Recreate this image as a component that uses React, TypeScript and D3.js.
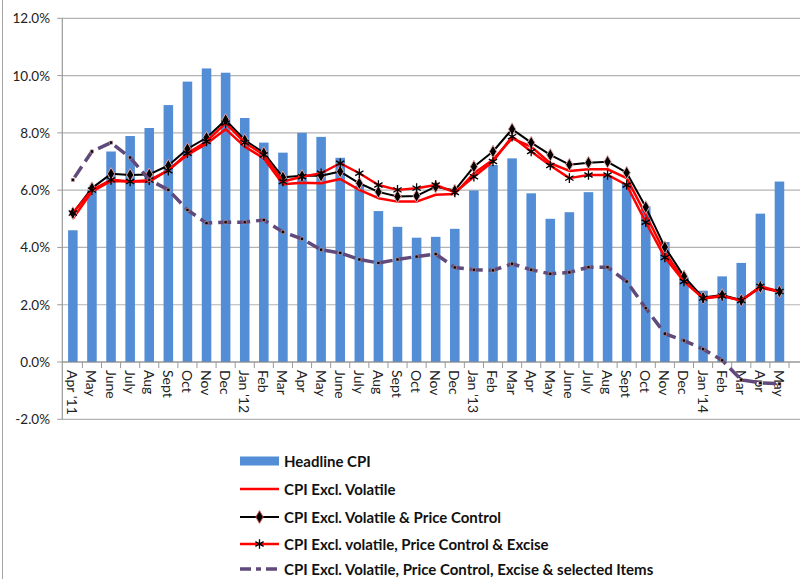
import * as d3 from "d3";

const months = [
  "Apr '11", "May '11", "Jun '11", "Jul '11", "Aug '11", "Sep '11", "Oct '11", "Nov '11", "Dec '11",
  "Jan '12", "Feb '12", "Mar '12", "Apr '12", "May '12", "Jun '12", "Jul '12", "Aug '12", "Sep '12",
  "Oct '12", "Nov '12", "Dec '12", "Jan '13", "Feb '13", "Mar '13", "Apr '13", "May '13", "Jun '13",
  "Jul '13", "Aug '13", "Sep '13", "Oct '13", "Nov '13", "Dec '13", "Jan '14", "Feb '14", "Mar '14",
  "Apr '14", "May '14",
];

const tickLabels = [
  "Apr '11", "May", "June", "July", "Aug", "Sept", "Oct", "Nov", "Dec",
  "Jan '12", "Feb", "Mar", "Apr", "May", "June", "July", "Aug", "Sept", "Oct", "Nov", "Dec",
  "Jan '13", "Feb", "Mar", "Apr", "May", "June", "July", "Aug", "Sept", "Oct", "Nov", "Dec",
  "Jan '14", "Feb", "Mar", "Apr", "May",
];

const headline = [
  4.6, 6.0, 7.35, 7.89, 8.17, 8.97, 9.79, 10.25, 10.1,
  8.52, 7.66, 7.31, 8.0, 7.86, 7.13, 6.15, 5.27, 4.72, 4.34, 4.37, 4.65,
  5.99, 6.88, 7.11, 5.89, 5.0, 5.23, 5.93, 6.47, 6.25, 5.43, 4.19, 2.96,
  2.49, 2.99, 3.46, 5.18, 6.3,
];

const exVolatile = [
  5.0, 5.95, 6.32, 6.3, 6.3, 6.71, 7.23, 7.62, 8.13,
  7.52, 7.11, 6.21, 6.26, 6.24, 6.39, 6.01, 5.72, 5.6, 5.6, 5.84, 5.87,
  6.59, 7.06, 7.81, 7.52, 6.94, 6.67, 6.73, 6.73, 6.42, 5.14, 3.82, 2.87,
  2.22, 2.3, 2.15, 2.6, 2.45,
];

const exVolPrice = [
  5.2, 6.07, 6.57, 6.53, 6.55, 6.86, 7.44, 7.83, 8.45,
  7.75, 7.3, 6.45, 6.5, 6.5, 6.65, 6.24, 5.94, 5.78, 5.8, 6.12, 5.99,
  6.82, 7.35, 8.13, 7.66, 7.23, 6.89, 6.96, 6.99, 6.61, 5.41, 4.01, 2.99,
  2.25, 2.34, 2.16, 2.62, 2.46,
];

const exVolPriceExcise = [
  5.2, 6.0, 6.36, 6.3, 6.35, 6.68, 7.29, 7.7, 8.34,
  7.66, 7.23, 6.3, 6.47, 6.59, 6.94, 6.59, 6.18, 6.01, 6.07, 6.18, 5.92,
  6.47, 7.0, 7.87, 7.35, 6.86, 6.42, 6.53, 6.53, 6.18, 4.88, 3.65, 2.81,
  2.23, 2.31, 2.15, 2.64, 2.46,
];

const exSelected = [
  6.36, 7.35, 7.66, 7.14, 6.36, 6.01, 5.31, 4.85, 4.88,
  4.88, 4.96, 4.54, 4.3, 3.92, 3.81, 3.58, 3.46, 3.58, 3.68, 3.77, 3.3,
  3.22, 3.2, 3.43, 3.22, 3.08, 3.13, 3.31, 3.31, 2.81, 1.88, 0.99, 0.75,
  0.45, 0.06, -0.62, -0.73, -0.76,
];

const yTicks = [-2, 0, 2, 4, 6, 8, 10, 12];

const legendLabels = [
  "Headline CPI",
  "CPI Excl. Volatile",
  "CPI Excl. Volatile & Price Control",
  "CPI Excl. volatile, Price Control & Excise",
  "CPI Excl. Volatile, Price Control, Excise & selected Items",
];

const FONT = "Lato, 'Open Sans', sans-serif";
const BLUE = "#538dd5";
const RED = "#ff0000";
const PURPLE = "#604a7b";

export default function App() {
  const width = 800;
  const height = 579;
  const left = 63.3;
  const right = 789;

  const x = d3.scaleBand<string>().domain(months).range([left, right]).paddingInner(0.5).paddingOuter(0.25);
  const xb = d3.scaleBand<string>().domain(months).range([left, right]).padding(0);
  const y = d3.scaleLinear().domain([-2, 12]).range([419.3, 18.3]);
  const cx = (m: string) => (x(m) as number) + x.bandwidth() / 2;

  const line = d3
    .line<number>()
    .x((_, i) => cx(months[i]))
    .y((d) => y(d));

  const diamond = d3.symbol().type(d3.symbolDiamond).size(46)()!;
  const aster = d3.symbol().type(d3.symbolAsterisk).size(64)()!;
  const square = d3.symbol().type(d3.symbolSquare).size(10)()!;

  const legendX = 240;
  const legendY = [461, 489, 517, 544, 569];

  return (
    <svg
      width={width}
      height={height}
      style={{ position: "absolute", left: 0, top: 0, background: "#fff" }}
    >
      <rect x={2.5} y={-5} width={820} height={620} fill="#fff" stroke="#a6a6a6" strokeWidth={1} />

      {/* gridlines */}
      {yTicks.map((t) => (
        <line key={t} x1={left - 1} x2={width} y1={y(t)} y2={y(t)} stroke="#b3b3b3" strokeWidth={1.2} />
      ))}
      {yTicks.map((t) => (
        <g key={"yt" + t}>
          <line x1={left - 6} x2={left - 1} y1={y(t)} y2={y(t)} stroke="#9a9a9a" />
          <text
            x={50}
            y={y(t)}
            textAnchor="end"
            dominantBaseline="central"
            fontFamily={FONT}
            fontSize={13.5}
            fill="#222"
          >
            {t.toFixed(1) + "%"}
          </text>
        </g>
      ))}

      {/* bars */}
      {headline.map((v, i) => (
        <rect
          key={months[i]}
          x={x(months[i])}
          width={x.bandwidth()}
          y={y(v)}
          height={y(0) - y(v)}
          fill={BLUE}
        />
      ))}

      {/* axes */}
      <line x1={left - 1} x2={left - 1} y1={y(12)} y2={y(-2)} stroke="#9a9a9a" strokeWidth={1.2} />
      <line x1={left - 1} x2={width} y1={y(0)} y2={y(0)} stroke="#8c8c8c" strokeWidth={1.2} />
      {months.map((m) => (
        <line
          key={"xt" + m}
          x1={(xb(m) as number) + xb.bandwidth()}
          x2={(xb(m) as number) + xb.bandwidth()}
          y1={y(0)}
          y2={y(0) + 6}
          stroke="#9a9a9a"
        />
      ))}
      {months.map((m, i) => (
        <text
          key={"xl" + m}
          transform={`translate(${cx(m)},${y(0) + 8}) rotate(90)`}
          dominantBaseline="central"
          fontFamily={FONT}
          fontSize={14}
          fill="#222"
        >
          {tickLabels[i]}
        </text>
      ))}

      {/* lines */}
      <path d={line(exVolatile)!} fill="none" stroke={RED} strokeWidth={2.5} strokeLinejoin="round" />
      <path d={line(exVolPrice)!} fill="none" stroke="#000" strokeWidth={2} strokeLinejoin="round" />
      {exVolPrice.map((v, i) => (
        <path
          key={"d" + i}
          d={diamond}
          transform={`translate(${cx(months[i])},${y(v)})`}
          fill="#000"
          stroke="#e3a3a3"
          strokeWidth={1}
        />
      ))}
      <path d={line(exVolPriceExcise)!} fill="none" stroke={RED} strokeWidth={2.5} strokeLinejoin="round" />
      {exVolPriceExcise.map((v, i) => (
        <path
          key={"a" + i}
          d={aster}
          transform={`translate(${cx(months[i])},${y(v)})`}
          fill="none"
          stroke="#000"
          strokeWidth={1.3}
        />
      ))}
      <path
        d={line(exSelected)!}
        fill="none"
        stroke={PURPLE}
        strokeWidth={3.5}
        strokeDasharray="13,6"
        strokeDashoffset={-3}
      />
      {exSelected.map((v, i) => (
        <path
          key={"s" + i}
          d={square}
          transform={`translate(${cx(months[i])},${y(v)})`}
          fill="#000"
          stroke="#d9a0a0"
          strokeWidth={0.6}
        />
      ))}

      {/* legend */}
      <g fontFamily={FONT} fontSize={15} fontWeight="bold" fill="#111">
        <rect x={legendX} y={legendY[0] - 4.5} width={39} height={9} fill={BLUE} />
        <line x1={legendX} x2={legendX + 39} y1={legendY[1]} y2={legendY[1]} stroke={RED} strokeWidth={2.5} />
        <line x1={legendX} x2={legendX + 39} y1={legendY[2]} y2={legendY[2]} stroke="#000" strokeWidth={2} />
        <path d={diamond} transform={`translate(${legendX + 19.5},${legendY[2]})`} fill="#000" stroke="#c0504d" />
        <line x1={legendX} x2={legendX + 39} y1={legendY[3]} y2={legendY[3]} stroke={RED} strokeWidth={2.5} />
        <path d={aster} transform={`translate(${legendX + 19.5},${legendY[3]})`} fill="none" stroke="#000" strokeWidth={1.3} />
        <line
          x1={legendX}
          x2={legendX + 39}
          y1={legendY[4]}
          y2={legendY[4]}
          stroke={PURPLE}
          strokeWidth={3.5}
          strokeDasharray="11,5,5,5"
        />
        {legendLabels.map((l, i) => (
          <text key={l} x={legendX + 44} y={legendY[i]} dominantBaseline="central">
            {l}
          </text>
        ))}
      </g>
    </svg>
  );
}
